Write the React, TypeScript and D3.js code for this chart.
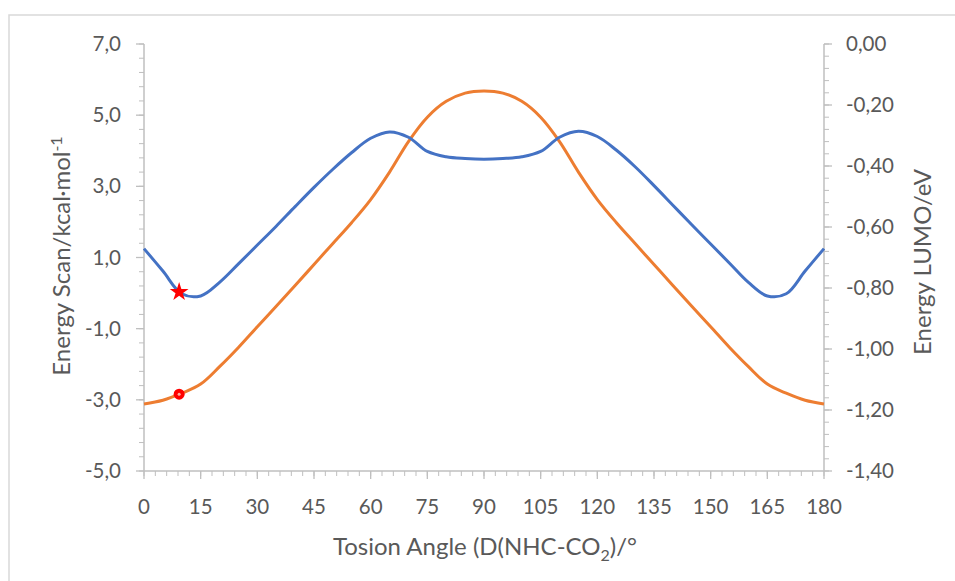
import React from "react";
import * as d3 from "d3";

const angles = [0,5,10,15,20,25,30,35,40,45,50,55,60,65,70,75,80,85,90,95,100,105,110,115,120,125,130,135,140,145,150,155,160,165,170,175,180];
const energyScan = [1.25,0.62,-0.02,-0.08,0.3,0.82,1.35,1.88,2.43,2.97,3.48,3.95,4.35,4.53,4.38,3.98,3.83,3.78,3.76,3.78,3.83,3.98,4.38,4.55,4.4,4.02,3.55,3.02,2.47,1.92,1.38,0.84,0.3,-0.08,-0.02,0.62,1.25];
const energyLumo = [-1.18,-1.168,-1.145,-1.115,-1.058,-0.995,-0.927,-0.86,-0.792,-0.723,-0.654,-0.585,-0.51,-0.42,-0.32,-0.24,-0.188,-0.161,-0.154,-0.161,-0.188,-0.24,-0.32,-0.42,-0.51,-0.585,-0.654,-0.723,-0.792,-0.86,-0.927,-0.995,-1.058,-1.115,-1.145,-1.168,-1.18];
const markerAngle = [9.3];
const starValue = [0.03];
const circleValue = [-1.148];
const xTicks = [0,15,30,45,60,75,90,105,120,135,150,165,180];
const leftTicks = [-5,-3,-1,1,3,5,7];
const rightTicks = [-1.4,-1.2,-1.0,-0.8,-0.6,-0.4,-0.2,0];

const locale = d3.formatLocale({ decimal: ",", thousands: ".", grouping: [3], currency: ["", "€"], minus: "-" });
const f1 = locale.format(".1f");
const f2 = locale.format(".2f");

const FONT = "Lato, 'Open Sans', sans-serif";
const TXT = "#595959";
const AX = "#bfbfbf";
const TICK_FS = 20.5;
const TITLE_FS = 24;

export default function App() {
  const x = d3.scaleLinear().domain([0, 180]).range([144, 824]);
  const yL = d3.scaleLinear().domain([-5, 7]).range([471, 44]);
  const yR = d3.scaleLinear().domain([-1.4, 0]).range([471, 44]);

  const lineL = d3.line<number>().x((_, i) => x(angles[i])).y((d) => yL(d)).curve(d3.curveCatmullRom.alpha(0.5));
  const lineR = d3.line<number>().x((_, i) => x(angles[i])).y((d) => yR(d)).curve(d3.curveCatmullRom.alpha(0.5));

  const xMinor = d3.range(0, 180.001, 3);
  const lMinor = d3.range(-5, 7.001, 0.4);
  const rMinor = d3.range(-1.4, 0.0001, 0.04);

  const star = d3.symbol().type(d3.symbolStar).size(110)();

  return (
    <svg width={955} height={581} style={{ position: "absolute", left: 0, top: 0, background: "#fff" }}>
      <rect x={9} y={15} width={960} height={580} fill="#fff" stroke="#d9d9d9" strokeWidth={1.5} />
      {/* x axis */}
      <line x1={x(0)} x2={x(180)} y1={471} y2={471} stroke={AX} strokeWidth={1.5} />
      {xMinor.map((v, i) => (
        <line key={"xm" + i} x1={x(v)} x2={x(v)} y1={471} y2={476} stroke={AX} strokeWidth={1} />
      ))}
      {xTicks.map((v) => (
        <line key={"xt" + v} x1={x(v)} x2={x(v)} y1={471} y2={479} stroke={AX} strokeWidth={1.3} />
      ))}
      {xTicks.map((v) => (
        <text key={"xl" + v} x={x(v)} y={514} textAnchor="middle" fontFamily={FONT} fontSize={TICK_FS} fill={TXT}>{v}</text>
      ))}
      {/* left axis */}
      <line x1={144} x2={144} y1={44} y2={471} stroke={AX} strokeWidth={1.5} />
      {lMinor.map((v, i) => (
        <line key={"lm" + i} x1={139} x2={144} y1={yL(v)} y2={yL(v)} stroke={AX} strokeWidth={1} />
      ))}
      {leftTicks.map((v) => (
        <line key={"lt" + v} x1={136} x2={144} y1={yL(v)} y2={yL(v)} stroke={AX} strokeWidth={1.3} />
      ))}
      {leftTicks.map((v) => (
        <text key={"ll" + v} x={121} y={yL(v) + 7} textAnchor="end" fontFamily={FONT} fontSize={TICK_FS} fill={TXT}>{f1(v)}</text>
      ))}
      {/* right axis */}
      <line x1={824} x2={824} y1={44} y2={471} stroke={AX} strokeWidth={1.5} />
      {rMinor.map((v, i) => (
        <line key={"rm" + i} x1={824} x2={829} y1={yR(v)} y2={yR(v)} stroke={AX} strokeWidth={1} />
      ))}
      {rightTicks.map((v) => (
        <line key={"rt" + v} x1={824} x2={832} y1={yR(v)} y2={yR(v)} stroke={AX} strokeWidth={1.3} />
      ))}
      {rightTicks.map((v) => (
        <text key={"rl" + v} x={846} y={yR(v) + 7} textAnchor="start" fontFamily={FONT} fontSize={TICK_FS} fill={TXT}>{f2(v)}</text>
      ))}
      {/* series */}
      <path d={lineR(energyLumo) || ""} fill="none" stroke="#ED7D31" strokeWidth={3} strokeLinejoin="round" />
      <path d={lineL(energyScan) || ""} fill="none" stroke="#4472C4" strokeWidth={3} strokeLinejoin="round" />
      {markerAngle.map((a, i) => (
        <path key={"s" + i} d={star || ""} transform={`translate(${x(a)},${yL(starValue[i])})`} fill="#ff0000" />
      ))}
      {markerAngle.map((a, i) => (
        <g key={"c" + i}>
          <circle cx={x(a)} cy={yR(circleValue[i])} r={5.5} fill="#ff0000" />
          <circle cx={x(a)} cy={yR(circleValue[i])} r={1.5} fill="#ffb0a0" />
        </g>
      ))}
      {/* titles */}
      <text x={485} y={555} textAnchor="middle" fontFamily={FONT} fontSize={TITLE_FS} fill={TXT}>
        Tosion Angle (D(NHC-CO<tspan dy={6} fontSize={16}>2</tspan><tspan dy={-6}>)/°</tspan>
      </text>
      <text transform={`translate(70,256) rotate(-90)`} textAnchor="middle" fontFamily={FONT} fontSize={TITLE_FS} fill={TXT}>
        Energy Scan/kcal·mol<tspan dy={-8} fontSize={16}>-1</tspan>
      </text>
      <text transform={`translate(931,262) rotate(-90)`} textAnchor="middle" fontFamily={FONT} fontSize={TITLE_FS} fill={TXT}>
        Energy LUMO/eV
      </text>
    </svg>
  );
}
